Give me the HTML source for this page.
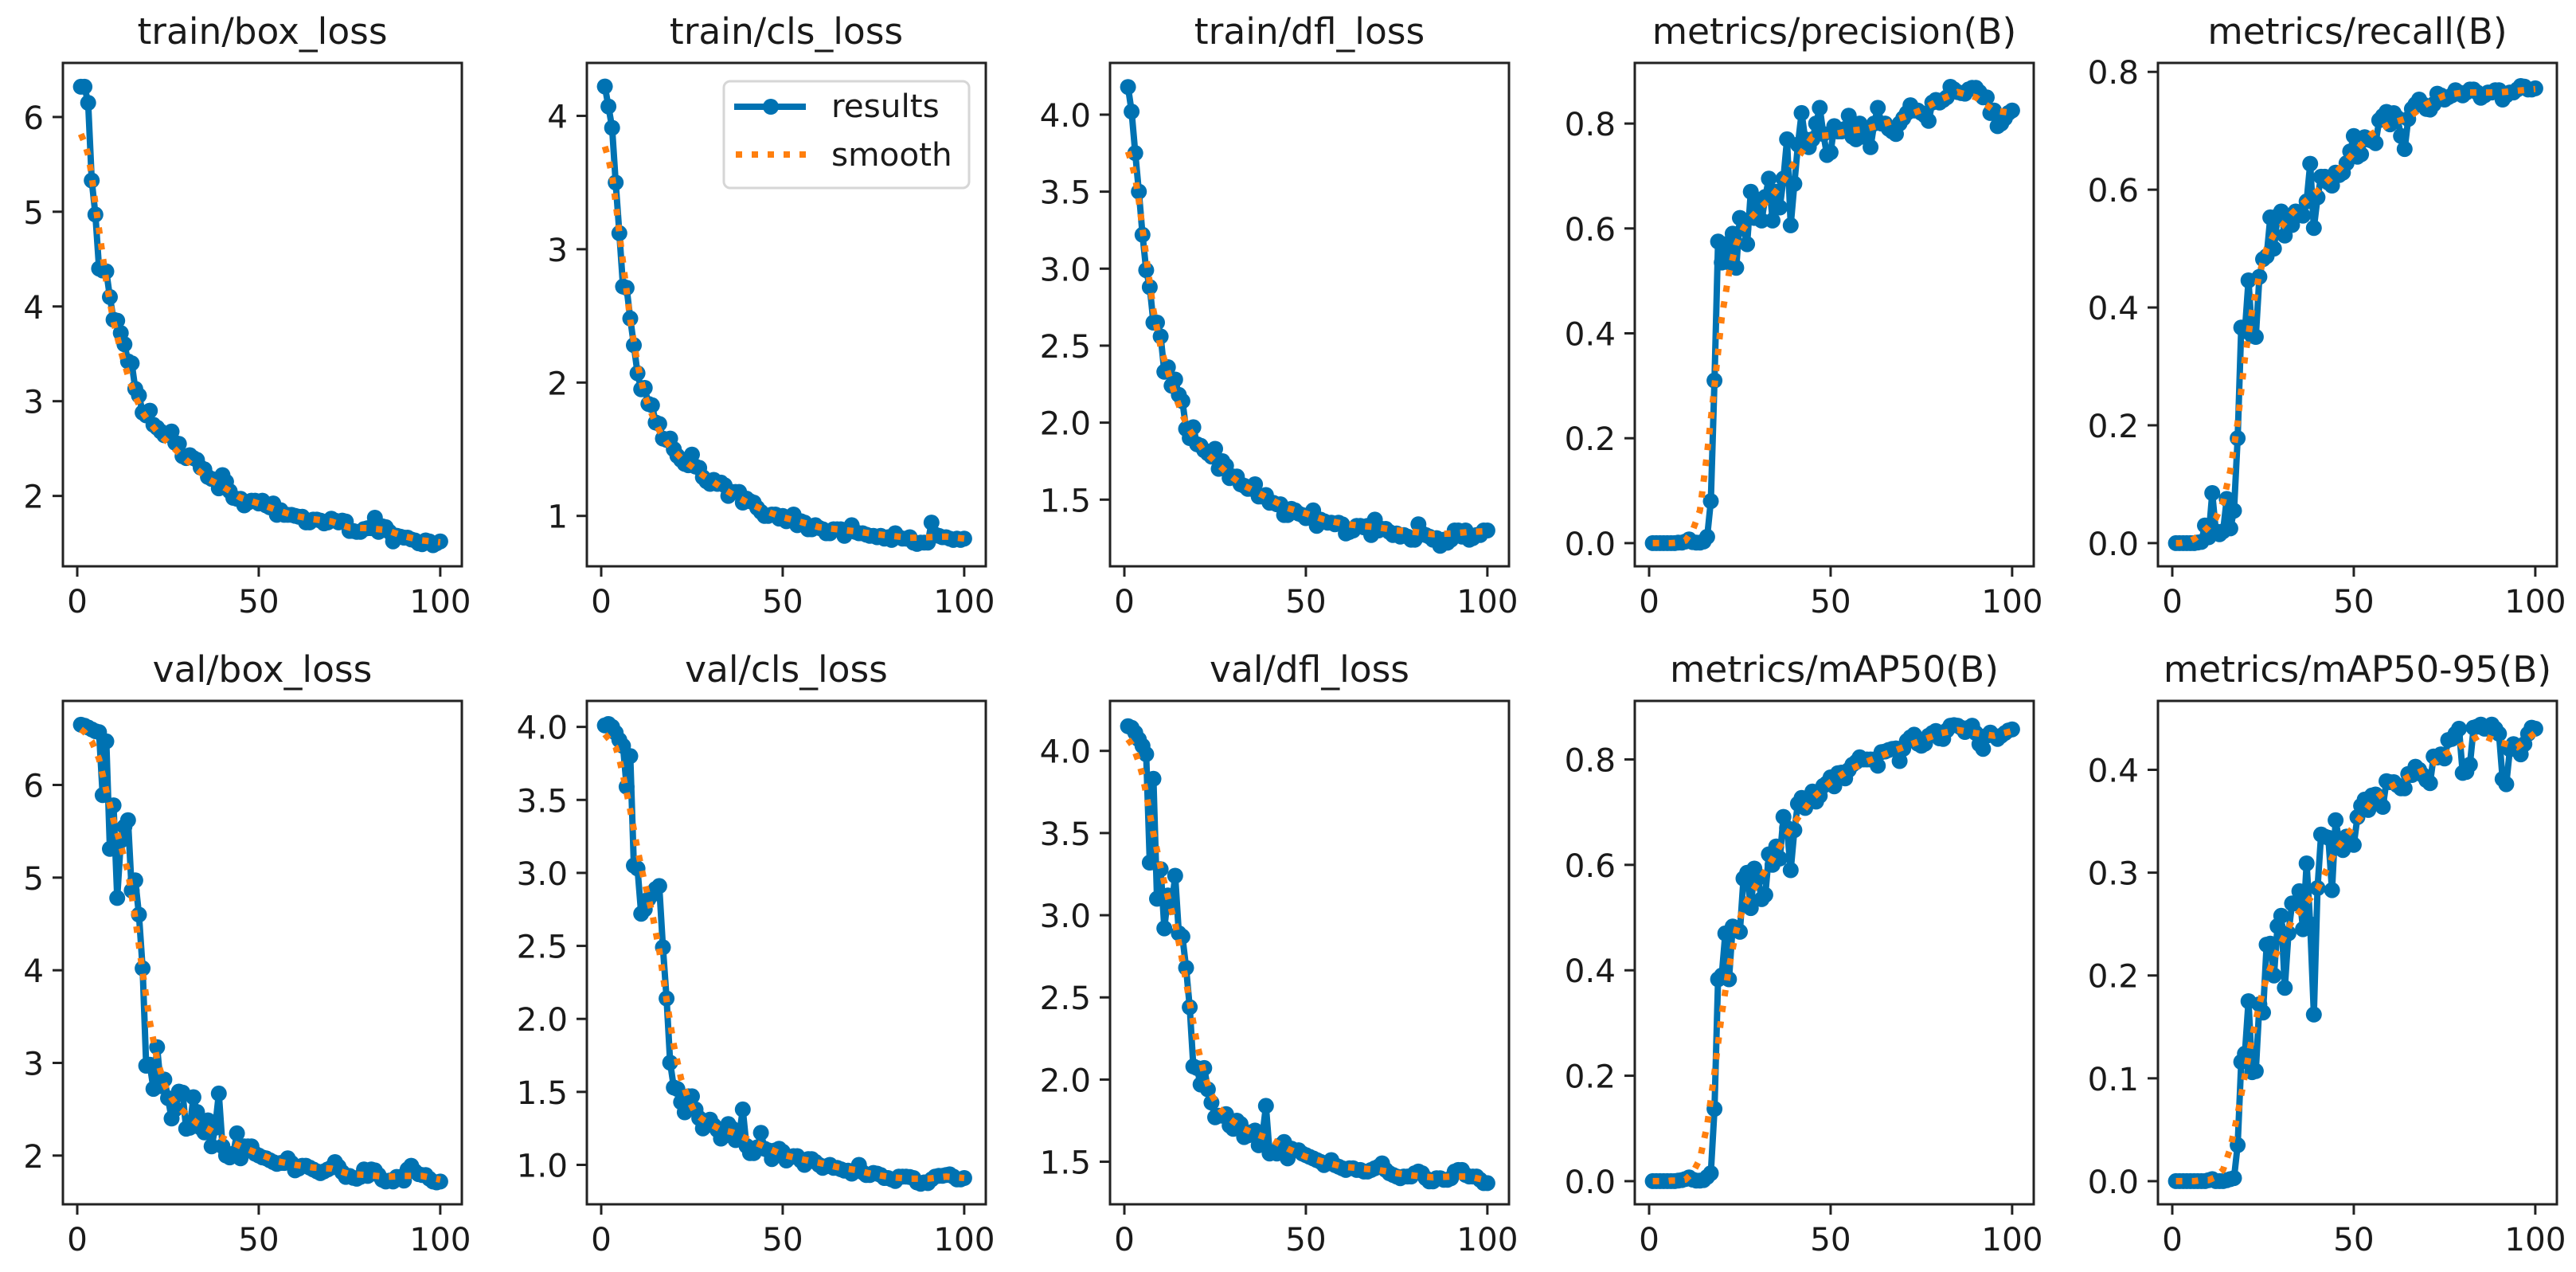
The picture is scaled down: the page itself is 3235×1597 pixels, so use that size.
<!DOCTYPE html>
<html lang="en">
<head>
<meta charset="utf-8">
<title>Training results</title>
<style>
html,body{margin:0;padding:0;background:#fff;}
svg{display:block;}
text{font-family:"DejaVu Sans","Liberation Sans",sans-serif;fill:#1a1a1a;}
</style>
</head>
<body>
<svg id="chart" xmlns="http://www.w3.org/2000/svg" width="3235" height="1597" viewBox="0 0 3235 1597">
<rect x="0" y="0" width="3235" height="1597" fill="#fff"/>
<g id="panels"></g>
<g>
  <rect x="909" y="102" width="308" height="134" rx="8" ry="8" fill="#fff" fill-opacity="0.8" stroke="#d6d6d6" stroke-width="3"/>
  <line x1="922" y1="134" x2="1012" y2="134" stroke="#0072b2" stroke-width="8"/>
  <circle cx="968" cy="134" r="10" fill="#0072b2"/>
  <text x="1044" y="147" font-size="40.5">results</text>
  <line x1="924" y1="194" x2="1012" y2="194" stroke="#ff7f0e" stroke-width="8" stroke-dasharray="8 12"/>
  <text x="1044" y="208" font-size="40.5">smooth</text>
</g>
</svg>
<script>
const epochs = [
1,2,3,4,5,6,7,8,9,10,11,12,13,14,15,16,17,18,19,20,
21,22,23,24,25,26,27,28,29,30,31,32,33,34,35,36,37,38,39,40,
41,42,43,44,45,46,47,48,49,50,51,52,53,54,55,56,57,58,59,60,
61,62,63,64,65,66,67,68,69,70,71,72,73,74,75,76,77,78,79,80,
81,82,83,84,85,86,87,88,89,90,91,92,93,94,95,96,97,98,99,100];
const smoothEpochs = [1,2,3,4,5,6,8,10,12,14,16,18,20,22,24,26,28,30,33,36,40,45,50,55,60,65,70,75,80,85,90,95,100];
const xTickValues = [0,50,100];

const titles = ["train/box_loss","train/cls_loss","train/dfl_loss","metrics/precision(B)","metrics/recall(B)","val/box_loss","val/cls_loss","val/dfl_loss","metrics/mAP50(B)","metrics/mAP50-95(B)"];

const yLimits = [[1.257,6.571],[0.622,4.397],[1.067,4.336],[-0.0442,0.9156],[-0.0394,0.8152],[1.474,6.907],[0.730,4.178],[1.241,4.304],[-0.0439,0.911],[-0.0225,0.467]];

const yTickLabels = [
["2","3","4","5","6"],
["1","2","3","4"],
["1.5","2.0","2.5","3.0","3.5","4.0"],
["0.0","0.2","0.4","0.6","0.8"],
["0.0","0.2","0.4","0.6","0.8"],
["2","3","4","5","6"],
["1.0","1.5","2.0","2.5","3.0","3.5","4.0"],
["1.5","2.0","2.5","3.0","3.5","4.0"],
["0.0","0.2","0.4","0.6","0.8"],
["0.0","0.1","0.2","0.3","0.4"]];

const trainBoxResults = [
6.32,6.32,6.15,5.33,4.97,4.40,4.38,4.37,4.10,3.86,
3.85,3.72,3.60,3.42,3.40,3.13,3.06,2.88,2.85,2.90,
2.75,2.72,2.68,2.64,2.65,2.68,2.56,2.55,2.42,2.40,
2.43,2.40,2.38,2.30,2.28,2.20,2.18,2.17,2.08,2.22,
2.15,2.05,1.98,1.97,1.97,1.90,1.93,1.95,1.95,1.92,
1.95,1.90,1.88,1.92,1.80,1.85,1.80,1.80,1.80,1.79,
1.78,1.78,1.72,1.72,1.75,1.75,1.74,1.71,1.72,1.76,
1.74,1.72,1.74,1.73,1.63,1.63,1.62,1.62,1.65,1.66,
1.66,1.77,1.62,1.68,1.67,1.62,1.52,1.58,1.57,1.56,
1.56,1.54,1.53,1.50,1.49,1.53,1.52,1.48,1.50,1.52];
const trainBoxSmooth = [5.82,5.73,5.60,5.38,5.08,4.81,4.26,3.84,3.53,3.27,3.05,2.88,2.77,2.68,2.60,2.53,2.45,2.38,2.28,2.18,2.10,1.98,1.92,1.85,1.79,1.755,1.73,1.665,1.66,1.64,1.575,1.53,1.51];

const trainClsResults = [
4.22,4.07,3.91,3.50,3.12,2.72,2.71,2.48,2.28,2.07,
1.95,1.96,1.84,1.83,1.70,1.69,1.58,1.57,1.58,1.50,
1.45,1.42,1.39,1.38,1.46,1.37,1.36,1.29,1.26,1.24,
1.27,1.24,1.25,1.23,1.15,1.18,1.18,1.18,1.10,1.13,
1.11,1.10,1.06,1.03,1.00,1.00,1.01,1.01,0.98,1.00,
0.96,0.98,1.01,0.93,0.96,0.95,0.90,0.90,0.93,0.91,
0.90,0.87,0.87,0.90,0.90,0.90,0.85,0.90,0.93,0.88,
0.87,0.87,0.86,0.85,0.85,0.84,0.85,0.83,0.84,0.82,
0.87,0.84,0.83,0.83,0.84,0.80,0.79,0.80,0.80,0.80,
0.95,0.86,0.85,0.84,0.84,0.83,0.82,0.83,0.82,0.83];
const trainClsSmooth = [3.77,3.68,3.55,3.35,3.12,2.90,2.47,2.14,1.90,1.76,1.64,1.55,1.49,1.435,1.39,1.35,1.305,1.27,1.215,1.165,1.105,1.04,0.99,0.955,0.915,0.90,0.885,0.865,0.85,0.835,0.84,0.845,0.83];

const trainDflResults = [
4.18,4.02,3.75,3.50,3.22,2.99,2.88,2.65,2.65,2.56,
2.33,2.36,2.24,2.28,2.18,2.14,1.96,1.90,1.97,1.86,
1.85,1.82,1.80,1.78,1.83,1.70,1.75,1.72,1.64,1.65,
1.65,1.60,1.59,1.57,1.57,1.60,1.52,1.52,1.53,1.48,
1.48,1.47,1.47,1.40,1.40,1.44,1.43,1.41,1.40,1.38,
1.40,1.43,1.33,1.37,1.36,1.35,1.35,1.34,1.35,1.34,
1.28,1.29,1.30,1.33,1.33,1.32,1.33,1.27,1.37,1.30,
1.31,1.31,1.29,1.27,1.28,1.26,1.27,1.26,1.24,1.24,
1.34,1.28,1.27,1.26,1.24,1.25,1.20,1.24,1.22,1.24,
1.30,1.30,1.26,1.30,1.24,1.25,1.27,1.27,1.30,1.30];
const trainDflSmooth = [3.76,3.69,3.59,3.44,3.26,3.08,2.73,2.49,2.33,2.18,2.05,1.95,1.88,1.815,1.77,1.725,1.68,1.64,1.59,1.555,1.505,1.445,1.41,1.37,1.345,1.33,1.32,1.30,1.29,1.275,1.28,1.29,1.295];

const precisionResults = [
0,0,0,0,0,0,0,0.001,0.001,0.003,
0.007,0.002,0.001,0.001,0.003,0.012,0.08,0.31,0.575,0.535,
0.57,0.535,0.59,0.525,0.62,0.60,0.57,0.67,0.62,0.655,
0.615,0.66,0.695,0.615,0.67,0.64,0.695,0.77,0.606,0.685,
0.76,0.82,0.77,0.755,0.77,0.80,0.83,0.78,0.74,0.745,
0.795,0.785,0.785,0.79,0.815,0.775,0.77,0.80,0.775,0.78,
0.755,0.80,0.83,0.80,0.80,0.79,0.785,0.78,0.80,0.81,
0.82,0.835,0.825,0.825,0.82,0.815,0.805,0.84,0.845,0.84,
0.845,0.85,0.87,0.865,0.86,0.858,0.857,0.865,0.868,0.868,
0.86,0.85,0.85,0.82,0.825,0.795,0.80,0.81,0.82,0.825];
const precisionSmooth = [0,0,0,0,0,0,0.001,0.005,0.024,0.062,0.172,0.30,0.43,0.515,0.57,0.60,0.62,0.635,0.655,0.68,0.725,0.775,0.778,0.786,0.79,0.80,0.812,0.826,0.845,0.86,0.85,0.825,0.82];

const recallResults = [
0,0,0,0,0,0,0.001,0.002,0.03,0.01,
0.085,0.02,0.015,0.02,0.075,0.025,0.055,0.178,0.366,0.36,
0.446,0.352,0.35,0.452,0.482,0.487,0.553,0.50,0.555,0.563,
0.522,0.555,0.54,0.563,0.56,0.556,0.58,0.644,0.535,0.587,
0.622,0.622,0.612,0.607,0.629,0.625,0.629,0.645,0.665,0.691,
0.656,0.66,0.689,0.685,0.683,0.679,0.718,0.725,0.732,0.711,
0.73,0.722,0.691,0.669,0.72,0.737,0.745,0.753,0.745,0.737,
0.736,0.745,0.763,0.76,0.753,0.757,0.76,0.769,0.765,0.76,
0.765,0.77,0.77,0.765,0.756,0.76,0.765,0.765,0.769,0.769,
0.753,0.76,0.765,0.765,0.77,0.776,0.775,0.77,0.77,0.772];
const recallSmooth = [0,0,0.001,0.002,0.004,0.007,0.016,0.028,0.042,0.07,0.123,0.205,0.314,0.395,0.457,0.50,0.524,0.537,0.56,0.577,0.598,0.628,0.663,0.695,0.712,0.722,0.745,0.76,0.765,0.765,0.765,0.768,0.771];

const valBoxResults = [
6.65,6.64,6.62,6.60,6.58,6.57,5.89,6.47,5.31,5.78,
4.78,5.40,5.55,5.62,4.86,4.97,4.60,4.02,2.97,2.98,
2.72,3.17,2.75,2.82,2.62,2.40,2.50,2.69,2.68,2.29,
2.30,2.63,2.47,2.30,2.25,2.38,2.10,2.30,2.67,2.10,
2.00,1.98,2.02,2.24,1.97,2.10,2.10,2.10,2.02,2.00,
1.98,1.97,1.95,1.93,1.91,1.92,1.92,1.97,1.92,1.84,
1.86,1.89,1.89,1.87,1.85,1.83,1.81,1.83,1.85,1.87,
1.93,1.88,1.82,1.77,1.78,1.76,1.75,1.77,1.85,1.78,
1.85,1.84,1.79,1.74,1.72,1.73,1.72,1.77,1.77,1.73,
1.85,1.89,1.83,1.80,1.79,1.79,1.75,1.72,1.71,1.72];
const valBoxSmooth = [6.60,6.57,6.52,6.47,6.38,6.28,5.94,5.62,5.35,5.06,4.56,3.98,3.44,3.04,2.77,2.62,2.52,2.45,2.35,2.29,2.19,2.10,2.02,1.94,1.90,1.87,1.86,1.80,1.79,1.77,1.78,1.78,1.74];

const valClsResults = [
4.01,4.02,4.00,3.96,3.91,3.87,3.59,3.80,3.05,3.03,
2.72,2.75,2.82,2.85,2.89,2.91,2.49,2.14,1.70,1.53,
1.52,1.43,1.36,1.47,1.47,1.38,1.32,1.25,1.27,1.31,
1.27,1.24,1.18,1.20,1.28,1.25,1.17,1.20,1.38,1.13,
1.08,1.08,1.12,1.22,1.11,1.10,1.04,1.10,1.11,1.09,
1.03,1.05,1.06,1.06,1.03,1.00,1.04,1.04,1.02,1.00,
0.98,0.99,1.00,0.98,0.98,0.97,0.96,0.96,0.94,0.96,
1.00,0.95,0.93,0.93,0.945,0.94,0.93,0.91,0.91,0.90,
0.89,0.92,0.92,0.92,0.917,0.91,0.88,0.87,0.88,0.875,
0.90,0.92,0.925,0.925,0.93,0.935,0.92,0.90,0.90,0.91];
const valClsSmooth = [3.95,3.92,3.89,3.86,3.78,3.67,3.43,3.16,2.93,2.73,2.47,2.13,1.82,1.59,1.45,1.35,1.31,1.28,1.24,1.225,1.18,1.125,1.07,1.04,1.015,0.985,0.965,0.935,0.915,0.905,0.905,0.92,0.91];

const valDflResults = [
4.15,4.14,4.11,4.07,4.03,3.98,3.32,3.83,3.10,3.28,
2.92,3.12,3.05,3.24,2.89,2.87,2.68,2.44,2.08,2.07,
1.97,2.07,1.94,1.86,1.77,1.78,1.78,1.79,1.72,1.70,
1.75,1.73,1.65,1.66,1.68,1.69,1.60,1.65,1.84,1.55,
1.56,1.55,1.60,1.62,1.52,1.58,1.57,1.57,1.55,1.54,
1.53,1.52,1.51,1.50,1.48,1.49,1.51,1.48,1.47,1.46,
1.45,1.46,1.46,1.45,1.45,1.44,1.44,1.45,1.46,1.47,
1.49,1.45,1.43,1.42,1.41,1.40,1.41,1.41,1.41,1.43,
1.44,1.43,1.40,1.38,1.38,1.40,1.40,1.39,1.39,1.40,
1.44,1.45,1.45,1.42,1.41,1.41,1.41,1.39,1.37,1.37];
const valDflSmooth = [4.07,4.04,3.99,3.93,3.85,3.74,3.50,3.29,3.11,2.95,2.72,2.47,2.22,2.03,1.91,1.83,1.78,1.745,1.70,1.67,1.64,1.58,1.53,1.50,1.47,1.46,1.45,1.43,1.415,1.405,1.41,1.41,1.385];

const map50Results = [
0,0,0,0,0,0,0,0.001,0.002,0.004,
0.007,0.003,0.001,0.001,0.002,0.008,0.015,0.137,0.383,0.39,
0.47,0.383,0.483,0.478,0.473,0.574,0.585,0.518,0.593,0.575,
0.535,0.543,0.62,0.60,0.635,0.612,0.691,0.67,0.59,0.666,
0.716,0.727,0.708,0.725,0.739,0.72,0.731,0.75,0.755,0.766,
0.749,0.774,0.775,0.764,0.78,0.79,0.795,0.804,0.80,0.80,
0.80,0.80,0.788,0.814,0.815,0.818,0.82,0.821,0.797,0.82,
0.835,0.842,0.847,0.83,0.826,0.83,0.845,0.85,0.854,0.84,
0.839,0.855,0.864,0.865,0.864,0.86,0.852,0.86,0.864,0.85,
0.829,0.82,0.845,0.851,0.845,0.839,0.845,0.85,0.855,0.857];
const map50Smooth = [0,0,0,0,0,0.001,0.001,0.003,0.016,0.042,0.106,0.206,0.317,0.405,0.475,0.52,0.545,0.567,0.60,0.635,0.68,0.726,0.757,0.78,0.796,0.81,0.823,0.836,0.849,0.856,0.85,0.845,0.854];

const map5095Results = [
0,0,0,0,0,0,0,0,0,0.001,
0.002,0,0,0,0.001,0.002,0.003,0.035,0.116,0.124,
0.175,0.106,0.107,0.172,0.164,0.23,0.231,0.20,0.248,0.258,
0.188,0.241,0.27,0.27,0.282,0.245,0.309,0.25,0.162,0.285,
0.337,0.335,0.334,0.283,0.351,0.33,0.322,0.335,0.33,0.327,
0.354,0.365,0.371,0.361,0.375,0.376,0.37,0.364,0.389,0.388,
0.388,0.385,0.382,0.382,0.396,0.395,0.403,0.40,0.395,0.39,
0.387,0.413,0.412,0.415,0.411,0.429,0.43,0.435,0.44,0.397,
0.398,0.405,0.441,0.442,0.444,0.44,0.44,0.444,0.44,0.435,
0.391,0.386,0.42,0.425,0.42,0.415,0.425,0.435,0.441,0.44];
const map5095Smooth = [0,0,0,0,0,0,0.001,0.001,0.004,0.011,0.032,0.065,0.103,0.14,0.172,0.198,0.216,0.232,0.253,0.266,0.284,0.322,0.345,0.369,0.383,0.393,0.401,0.415,0.424,0.434,0.427,0.422,0.436];

const resultsSeries = [trainBoxResults,trainClsResults,trainDflResults,precisionResults,recallResults,valBoxResults,valClsResults,valDflResults,map50Results,map5095Results];
const smoothSeries = [trainBoxSmooth,trainClsSmooth,trainDflSmooth,precisionSmooth,recallSmooth,valBoxSmooth,valClsSmooth,valDflSmooth,map50Smooth,map5095Smooth];

const NS = "http://www.w3.org/2000/svg";
const host = document.getElementById("panels");
const frameLefts = [79,737,1394,2053,2710];
const frameTops = [79,880];
const frameW = 501, frameH = 632;
const xMin = -3.95, xMax = 105.95;
const BLUE = "#0072b2", ORANGE = "#ff7f0e", INK = "#222";

function make(tag, attrs, parent){
  const el = document.createElementNS(NS, tag);
  for (const k in attrs) el.setAttribute(k, attrs[k]);
  parent.appendChild(el);
  return el;
}

function drawPanel(index){
  const col = index % 5, row = Math.floor(index / 5);
  const left = frameLefts[col], top = frameTops[row];
  const lim = yLimits[index];
  const xScale = v => left + (v - xMin) / (xMax - xMin) * frameW;
  const yScale = v => top + frameH - (v - lim[0]) / (lim[1] - lim[0]) * frameH;

  const g = make("g", {}, host);
  
  

  const bg = make("rect", {x:left, y:top, width:frameW, height:frameH, fill:"#fff"}, g);
  
  

  const title = make("text", {x:left + frameW / 2, y:top - 24, "font-size":45.5, "text-anchor":"middle"}, g);
  
  
  title.textContent = titles[index];

  xTickValues.forEach(v => {
    const tick = make("line", {x1:xScale(v), x2:xScale(v), y1:top + frameH, y2:top + frameH + 13, stroke:INK, "stroke-width":3}, g);
    
    
    const label = make("text", {x:xScale(v), y:top + frameH + 58, "font-size":40.5, "text-anchor":"middle"}, g);
    
    
    label.textContent = String(v);
  });

  yTickLabels[index].forEach(t => {
    const v = parseFloat(t);
    const tick = make("line", {x1:left - 13, x2:left, y1:yScale(v), y2:yScale(v), stroke:INK, "stroke-width":3}, g);
    
    
    const label = make("text", {x:left - 24, y:yScale(v) + 15, "font-size":40.5, "text-anchor":"end"}, g);
    
    
    label.textContent = t;
  });

  const values = resultsSeries[index];
  const linePts = values.map((v, i) => xScale(epochs[i]).toFixed(1) + "," + yScale(v).toFixed(1)).join(" ");
  const line = make("polyline", {points:linePts, fill:"none", stroke:BLUE, "stroke-width":8, "stroke-linejoin":"round"}, g);
  
  

  values.forEach((v, i) => {
    const dot = make("circle", {cx:xScale(epochs[i]).toFixed(1), cy:yScale(v).toFixed(1), r:10, fill:BLUE}, g);
    
    
  });

  const smoothVals = smoothSeries[index];
  const smoothPts = smoothVals.map((v, i) => xScale(smoothEpochs[i]).toFixed(1) + "," + yScale(v).toFixed(1)).join(" ");
  const smooth = make("polyline", {points:smoothPts, fill:"none", stroke:ORANGE, "stroke-width":8, "stroke-dasharray":"8 12"}, g);
  
  

  const frame = make("rect", {x:left, y:top, width:frameW, height:frameH, fill:"none", stroke:INK, "stroke-width":3}, g);
  
  
}

titles.forEach((t, i) => drawPanel(i));
</script>
</body>
</html>
